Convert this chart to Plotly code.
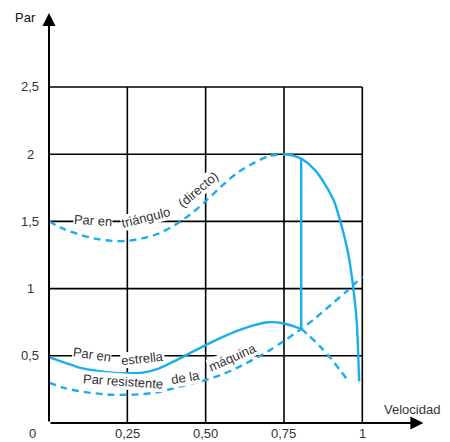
import plotly.graph_objects as go

# ---- data ----
x_tri_dash = [0, 0.05, 0.1, 0.15, 0.2, 0.25, 0.3, 0.35, 0.4, 0.45, 0.5, 0.55, 0.6, 0.65, 0.7, 0.75]
y_tri_dash = [1.50, 1.44, 1.40, 1.37, 1.355, 1.355, 1.375, 1.41, 1.47, 1.55, 1.65, 1.76, 1.86, 1.93, 1.985, 2.0]
x_tri_solid = [0.75, 0.78, 0.81, 0.85, 0.88, 0.91, 0.93, 0.955, 0.97, 0.982, 0.987, 0.99]
y_tri_solid = [2.0, 1.99, 1.96, 1.88, 1.78, 1.65, 1.50, 1.26, 1.03, 0.76, 0.51, 0.31]

x_star_solid = [0, 0.05, 0.1, 0.15, 0.2, 0.25, 0.3, 0.35, 0.4, 0.45, 0.5, 0.55, 0.6, 0.65, 0.7, 0.75, 0.805]
y_star_solid = [0.49, 0.45, 0.41, 0.39, 0.375, 0.37, 0.375, 0.405, 0.46, 0.52, 0.58, 0.635, 0.685, 0.725, 0.75, 0.74, 0.70]
x_star_dash = [0.805, 0.83, 0.865, 0.9, 0.93, 0.95]
y_star_dash = [0.70, 0.65, 0.57, 0.48, 0.39, 0.33]

x_mach = [0, 0.05, 0.1, 0.15, 0.2, 0.25, 0.3, 0.35, 0.4, 0.45, 0.5, 0.55, 0.6, 0.65, 0.7, 0.75, 0.805, 0.85, 0.9, 0.95, 1.0]
y_mach = [0.30, 0.26, 0.235, 0.22, 0.21, 0.21, 0.215, 0.23, 0.26, 0.29, 0.32, 0.36, 0.41, 0.47, 0.535, 0.61, 0.70, 0.78, 0.88, 0.98, 1.09]

switch_x = [0.805, 0.805]
switch_y = [0.70, 1.965]

x_ticks = [0.25, 0.5, 0.75, 1.0]
x_tick_text = ["0,25", "0,50", "0,75", "1"]
y_ticks = [0.5, 1.0, 1.5, 2.0, 2.5]
y_tick_text = ["0,5", "1", "1,5", "2", "2,5"]

BLUE = "#1aaeea"
TXT = "#333333"
FONT = "Liberation Sans, Arial, sans-serif"

W, H = 450, 442
ML, MR, MT, MB = 49, 20, 10, 19
PW, PH = W - ML - MR, H - MT - MB
SX, SY = 313.3, 134.4  # px per data unit


def px_x(px):
    return (px - ML) / PW


def px_y(py):
    return (H - MB - py) / PH


fig = go.Figure()

# grid
for v in x_ticks:
    fig.add_trace(go.Scatter(x=[v, v], y=[0, 2.5], mode="lines",
                             line=dict(color="black", width=1.6), hoverinfo="skip", showlegend=False))
for h in y_ticks:
    fig.add_trace(go.Scatter(x=[0, 1.0], y=[h, h], mode="lines",
                             line=dict(color="black", width=1.6), hoverinfo="skip", showlegend=False))


def curve(x, y, dash):
    fig.add_trace(go.Scatter(x=x, y=y, mode="lines",
                             line=dict(color=BLUE, width=2.4, dash=dash, shape="spline", smoothing=0.8),
                             hoverinfo="skip", showlegend=False, cliponaxis=False))


curve(x_tri_dash, y_tri_dash, "7px,5px")
curve(x_tri_solid, y_tri_solid, "solid")
curve(x_star_solid, y_star_solid, "solid")
curve(x_star_dash, y_star_dash, "7px,5px")
curve(x_mach, y_mach, "7px,5px")
fig.add_trace(go.Scatter(x=switch_x, y=switch_y, mode="lines",
                         line=dict(color=BLUE, width=2.4), hoverinfo="skip", showlegend=False))

ann = []
# axes with arrows
ann.append(dict(x=0, y=3.05, ax=0, ay=0, xref="x", yref="y", axref="x", ayref="y",
                showarrow=True, arrowhead=2, arrowsize=1.3, arrowwidth=2, arrowcolor="black", text=""))
ann.append(dict(x=1.195, y=0, ax=0, ay=0, xref="x", yref="y", axref="x", ayref="y",
                showarrow=True, arrowhead=2, arrowsize=1.3, arrowwidth=2, arrowcolor="black", text=""))

tf = dict(size=13, color=TXT, family=FONT)


def text_at(px, py, text, font=tf, angle=0, bg=None):
    d = dict(x=px_x(px), y=px_y(py), xref="paper", yref="paper", text=text,
             showarrow=False, xanchor="center", yanchor="middle", textangle=angle,
             font=font, borderpad=0)
    if bg:
        d["bgcolor"] = bg
    ann.append(d)


# tick labels
for v, t in zip(x_ticks, x_tick_text):
    text_at(ML + v * SX, 433.5, t)
for v, t in zip(y_ticks, y_tick_text):
    text_at(30, H - MB - v * SY, t)
text_at(32, 433.5, "0")
text_at(25, 18, "Par", font=dict(size=13, color="#111", family=FONT))
text_at(412, 409, "Velocidad", font=dict(size=13, color=TXT, family=FONT))

# curve labels (word pieces following the curves)
lab_font = dict(size=13, color=TXT, family=FONT)
text_at(93, 220, "Par en", lab_font, 4, "white")
text_at(146, 218, "triángulo", lab_font, -14, "white")
text_at(198, 189, "(directo)", lab_font, -40, "white")
text_at(92, 354, "Par en", lab_font, 8, "white")
text_at(142, 358, "estrella", lab_font, -6, "white")
text_at(123, 381, "Par resistente", lab_font, 4, "white")
text_at(185, 377, "de la", lab_font, -10, "white")
text_at(232, 357, "máquina", lab_font, -24, "white")

fig.update_layout(
    width=W, height=H,
    margin=dict(l=ML, r=MR, t=MT, b=MB),
    paper_bgcolor="white", plot_bgcolor="white",
    xaxis=dict(range=[0, PW / SX], visible=False, fixedrange=True),
    yaxis=dict(range=[0, PH / SY], visible=False, fixedrange=True),
    annotations=ann,
    showlegend=False,
)

fig.write_html("out.html", config={"displayModeBar": False},
               post_script="document.body.style.margin='0px';")
